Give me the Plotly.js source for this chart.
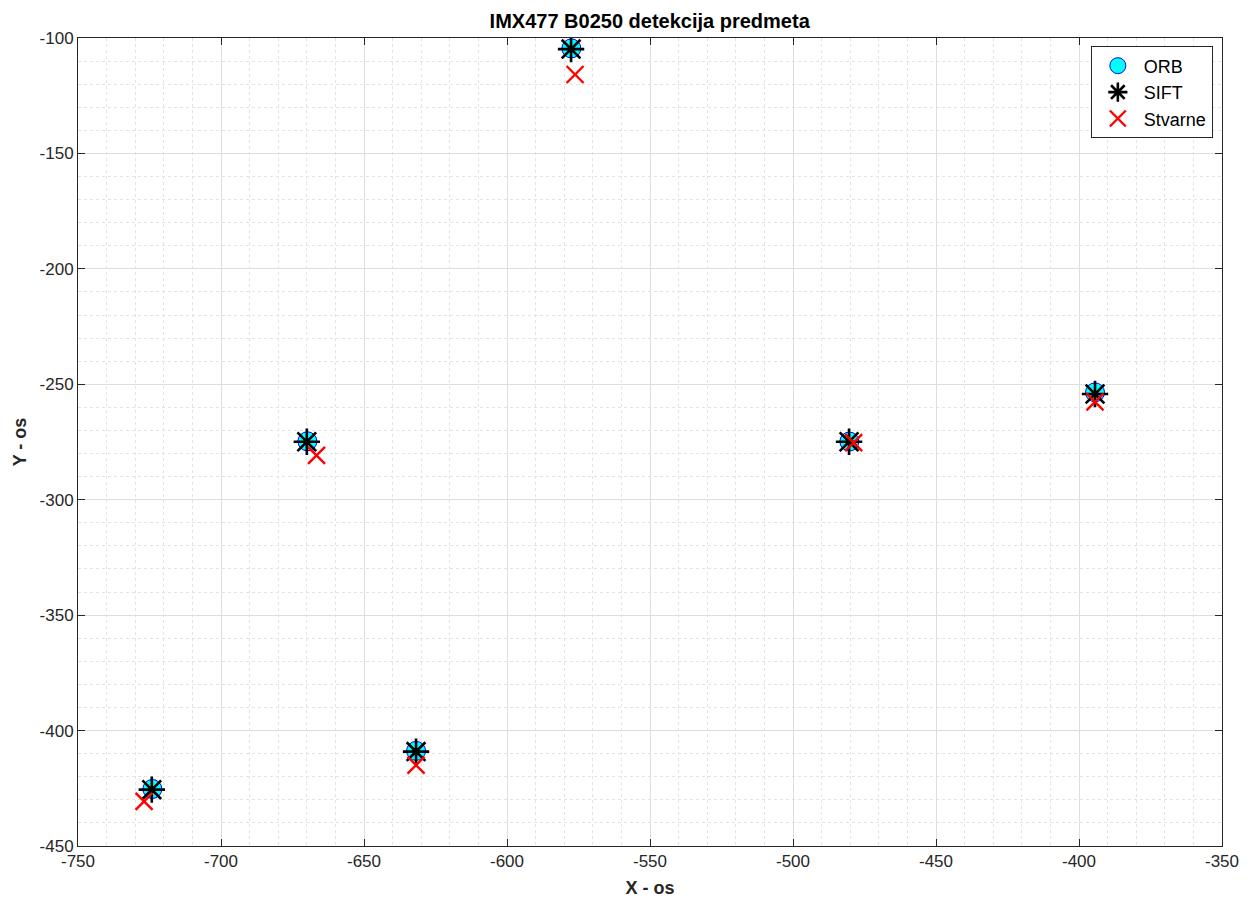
<!DOCTYPE html>
<html>
<head>
<meta charset="utf-8">
<script src="https://cdn.plot.ly/plotly-3.0.1.min.js"></script>
<style>html,body{margin:0;padding:0;background:#fff;}#chart{width:1253px;height:898px;}</style>
</head>
<body>
<div id="chart"></div>
<script>
// Data
const orbX = [-577.5, -669.8, -724.0, -631.8, -480.3, -394.4];
const orbY = [-104.5, -274.7, -425.3, -408.8, -274.8, -253.5];
const siftX = [-577.6, -670.0, -724.2, -631.8, -480.4, -394.4];
const siftY = [-104.8, -274.9, -425.6, -409.1, -274.9, -254.2];
const realX = [-576.2, -666.6, -726.9, -631.8, -478.8, -394.4];
const realY = [-115.8, -280.8, -430.7, -415.0, -275.3, -257.6];
const seriesNames = ['ORB', 'SIFT', 'Stvarne'];
const xTicks = [-750, -700, -650, -600, -550, -500, -450, -400, -350];
const yTicks = [-100, -150, -200, -250, -300, -350, -400, -450];

const font = 'Liberation Sans, Arial, Helvetica, sans-serif';

const traces = [
  {x: orbX, y: orbY, name: seriesNames[0], mode: 'markers', type: 'scatter',
   marker: {symbol: 'circle', size: 19, color: '#00ffff', line: {color: '#0000ff', width: 1}}},
  {x: siftX, y: siftY, name: seriesNames[1], mode: 'markers', type: 'scatter',
   marker: {symbol: 'asterisk-open', size: 22, color: '#000000', line: {color: '#000000', width: 2.6}}},
  {x: realX, y: realY, name: seriesNames[2], mode: 'markers', type: 'scatter',
   marker: {symbol: 'x-thin-open', size: 17, color: '#ff0000', line: {color: '#ff0000', width: 2.4}}}
];

const axisCommon = {
  showline: true, mirror: 'ticks', linecolor: '#262626', linewidth: 1,
  ticks: 'inside', ticklen: 7, tickcolor: '#262626', tickwidth: 1,
  showgrid: true, gridcolor: '#dedede', gridwidth: 1,
  zeroline: false,
  tickfont: {family: font, size: 17, color: '#262626'},
  minor: {dtick: 10, showgrid: true, gridcolor: '#e4e4e4', griddash: 'dot', gridwidth: 1}
};

const layout = {
  width: 1253, height: 898,
  margin: {l: 78, r: 31, t: 38, b: 52},
  paper_bgcolor: '#ffffff', plot_bgcolor: '#ffffff',
  title: {text: '<b>IMX477 B0250 detekcija predmeta</b>', font: {family: font, size: 20, color: '#000'}, x: 0.5185, xanchor: 'center', y: 0.977, yanchor: 'middle'},
  xaxis: Object.assign({}, axisCommon, {
    range: [-750, -350], tickvals: xTicks, ticktext: xTicks.map(String),
    title: {text: '<b>X - os</b>', font: {family: font, size: 18, color: '#262626'}, standoff: 10}
  }),
  yaxis: Object.assign({}, axisCommon, {
    range: [-450, -100], tickvals: yTicks, ticktext: yTicks.map(String),
    title: {text: '<b>Y - os</b>', font: {family: font, size: 18, color: '#262626'}, standoff: 8}
  }),
  showlegend: true,
  legend: {x: 0.992, xanchor: 'right', y: 0.9895, yanchor: 'top',
    bgcolor: '#ffffff', bordercolor: '#262626', borderwidth: 1,
    font: {family: font, size: 18, color: '#000'}, itemwidth: 42, tracegroupgap: 0}
};

Plotly.newPlot('chart', traces, layout, {displayModeBar: false, staticPlot: true});
</script>
</body>
</html>
